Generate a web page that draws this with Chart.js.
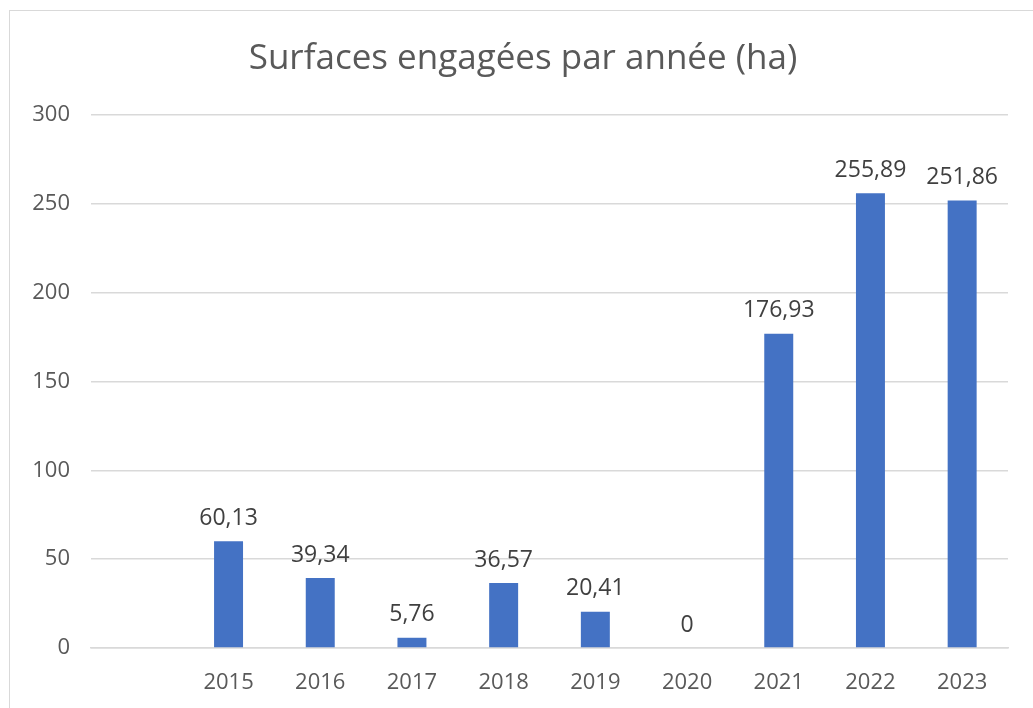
<!DOCTYPE html>
<html>
<head>
<meta charset="utf-8">
<script src="https://cdn.jsdelivr.net/npm/chart.js@4/dist/chart.umd.min.js"></script>
<style>
  html, body { margin: 0; padding: 0; background: #fff; }
  #wrap { position: relative; width: 1033px; height: 708px; overflow: hidden; }
  #frame { position: absolute; left: 9px; top: 10px; width: 1100px; height: 800px; border: 1px solid #d9d9d9; box-sizing: border-box; }
  canvas { position: absolute; left: 0; top: 0; }
</style>
</head>
<body>
<div id="wrap">
  <div id="frame"></div>
  <canvas id="myChart" width="1033" height="708"></canvas>
</div>
<script>
// first slot is left empty on purpose, the years start one step in
const years = ["", "2015", "2016", "2017", "2018", "2019", "2020", "2021", "2022", "2023"];
const surfaces = [null, 60.13, 39.34, 5.76, 36.57, 20.41, 0, 176.93, 255.89, 251.86];
const yTicks = [0, 50, 100, 150, 200, 250, 300];
const titleText = 'Surfaces engagées par année (ha)';

// title drawn by hand so it can sit a bit right of the canvas centre
const titleDraw = {
    id: 'titleDraw',
    afterDraw(chart) {
        const ctx = chart.ctx;
        ctx.save();
        ctx.font = '35px "Open Sans"';
        ctx.fillStyle = '#595959';
        ctx.textAlign = 'center';
        ctx.textBaseline = 'middle';
        ctx.fillText(titleText, 523, 59);
        ctx.restore();
    }
};

// value labels above each bar, french decimal comma
const valueLabels = {
    id: 'valueLabels',
    afterDatasetsDraw(chart) {
        const ctx = chart.ctx;
        const meta = chart.getDatasetMeta(0);
        ctx.save();
        ctx.font = '23px "Open Sans"';
        ctx.fillStyle = '#404040';
        ctx.textAlign = 'center';
        ctx.textBaseline = 'middle';
        meta.data.forEach((bar, i) => {
            const v = surfaces[i];
            if (v === null) return;
            ctx.fillText(String(v).replace('.', ','), bar.x, bar.y - 23);
        });
        ctx.restore();
    }
};

const ctx = document.getElementById('myChart');
new Chart(ctx, {
    type: 'bar',
    data: {
        labels: years,
        datasets: [{
            data: surfaces,
            backgroundColor: '#4472c4',
            borderWidth: 0,
            barPercentage: 0.316,
            categoryPercentage: 1
        }]
    },
    plugins: [valueLabels, titleDraw],
    options: {
        responsive: false,
        animation: false,
        layout: { padding: { top: 115, right: 25, left: 0, bottom: 0 } },
        plugins: {
            legend: { display: false },
            tooltip: { enabled: false },
            title: { display: false }
        },
        scales: {
            y: {
                min: 0,
                max: 300,
                afterBuildTicks: (scale) => { scale.ticks = yTicks.map(v => ({ value: v })); },
                afterFit: (scale) => { scale.width = 91; },
                ticks: {
                    color: '#595959',
                    font: { family: '"Open Sans"', size: 22 },
                    padding: 21
                },
                grid: { color: '#d9d9d9', lineWidth: 1.5, drawTicks: false },
                border: { display: false }
            },
            x: {
                afterFit: (scale) => { scale.height = 60; },
                ticks: {
                    color: '#595959',
                    font: { family: '"Open Sans"', size: 22 },
                    padding: 22,
                    maxRotation: 0,
                    autoSkip: false
                },
                grid: { display: false, drawTicks: false },
                border: { color: '#d9d9d9', width: 1.5 }
            }
        }
    }
});
</script>
</body>
</html>
